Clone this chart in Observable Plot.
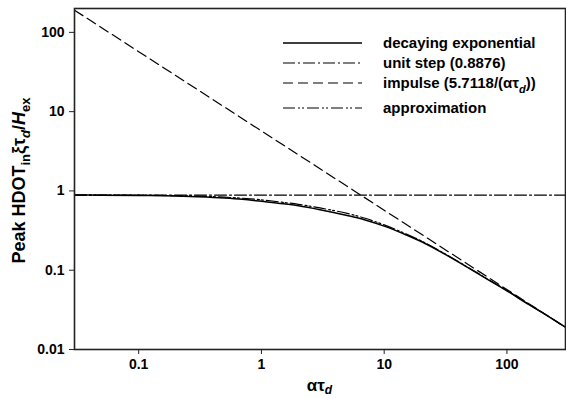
<!DOCTYPE html>
<html>
<head>
<meta charset="utf-8">
<script src="https://cdn.jsdelivr.net/npm/d3@7"></script>
<script src="https://cdn.jsdelivr.net/npm/@observablehq/plot@0.6"></script>
<style>
  html, body { margin: 0; padding: 0; background: #fff; }
  svg { display: block; }
</style>
</head>
<body>
<div id="chart"></div>
<script>
// ---- data ----
const alphaTau = [0.03, 0.05, 0.1, 0.2, 0.3, 0.5, 0.7, 1, 1.5, 2, 3, 5, 7, 10, 15, 20, 30, 50, 70, 100, 150, 200, 300];
const decayingExponential = [0.887, 0.885, 0.878, 0.862, 0.845, 0.815, 0.785, 0.74, 0.69, 0.65, 0.58, 0.49, 0.43, 0.36, 0.28, 0.23, 0.165, 0.104, 0.076, 0.055, 0.037, 0.0283, 0.0191];
const approximation = [0.887, 0.886, 0.883, 0.872, 0.86, 0.835, 0.808, 0.772, 0.718, 0.678, 0.61, 0.52, 0.452, 0.373, 0.288, 0.235, 0.167, 0.105, 0.077, 0.0555, 0.0375, 0.0284, 0.0191];
const stepX = [0.03, 300];
const unitStep = [0.8876, 0.8876];
const impulseX = [0.03, 300];
const impulse = [190.39, 0.01904];
const xTicks = [0.1, 1, 10, 100];
const yTicks = [0.01, 0.1, 1, 10, 100];
const xDomain = [0.03, 300];
const yDomain = [0.01, 200];

const decayRows = alphaTau.map((x, i) => ({x, y: decayingExponential[i]}));
const approxRows = alphaTau.map((x, i) => ({x, y: approximation[i]}));
const stepRows = stepX.map((x, i) => ({x, y: unitStep[i]}));
const impulseRows = impulseX.map((x, i) => ({x, y: impulse[i]}));

const W = 566, H = 398, mL = 74, mR = 1, mT = 8, mB = 49;

const chart = Plot.plot({
  width: W, height: H,
  marginLeft: mL, marginRight: mR, marginTop: mT, marginBottom: mB,
  style: {fontFamily: "'Liberation Sans', Arial, sans-serif", fontSize: "14px", fontWeight: "bold", color: "#000", background: "#fff"},
  x: {type: "log", domain: xDomain, label: null},
  y: {type: "log", domain: yDomain, label: null},
  marks: [
    Plot.line(impulseRows, {x: "x", y: "y", stroke: "#000", strokeWidth: 1.2, strokeDasharray: "10,5"}),
    Plot.line(stepRows, {x: "x", y: "y", stroke: "#000", strokeWidth: 1.2, strokeDasharray: "12,3,2,3"}),
    Plot.line(decayRows, {x: "x", y: "y", stroke: "#000", strokeWidth: 1.5, curve: "monotone-x"}),
    Plot.line(approxRows, {x: "x", y: "y", stroke: "#000", strokeWidth: 1.2, strokeDasharray: "12,3,2,2,2,3", curve: "monotone-x"}),
    Plot.axisX({ticks: xTicks, tickFormat: d => String(d), tickSize: 5, tickPadding: 5, stroke: "#222", label: null}),
    Plot.axisY({ticks: yTicks, tickFormat: d => String(d), tickSize: 5, tickPadding: 5, stroke: "#222", label: null}),
    Plot.frame({stroke: "#222", strokeWidth: 1.6})
  ]
});
document.getElementById("chart").appendChild(chart);

const svg = d3.select(chart);
const font = "'Liberation Sans', Arial, sans-serif";

// x-axis title
const xt = svg.append("text")
  .attr("x", (mL + W - mR) / 2).attr("y", 391)
  .attr("text-anchor", "middle").attr("font-family", font)
  .attr("font-weight", "bold").attr("font-size", 17).attr("fill", "#000");
xt.append("tspan").text("ατ");
xt.append("tspan").attr("dy", 3).attr("font-size", 12).attr("font-style", "italic").text("d");

// y-axis title
const yt = svg.append("text")
  .attr("transform", `translate(25,${(mT + H - mB) / 2 + 2}) rotate(-90)`)
  .attr("text-anchor", "middle").attr("font-family", font)
  .attr("font-weight", "bold").attr("font-size", 18).attr("fill", "#000");
yt.append("tspan").text("Peak HDOT");
yt.append("tspan").attr("dy", 5).attr("font-size", 13).text("in");
yt.append("tspan").attr("dy", -5).text("ξτ");
yt.append("tspan").attr("dy", 5).attr("font-size", 13).attr("font-style", "italic").text("d");
yt.append("tspan").attr("dy", -5).text("/");
yt.append("tspan").attr("font-style", "italic").text("H");
yt.append("tspan").attr("dy", 5).attr("font-size", 13).text("ex");

// legend
const legend = [
  {label: ["decaying exponential"], dash: null, w: 1.5, y: 43},
  {label: ["unit step (0.8876)"], dash: "12,3,2,3", w: 1.2, y: 63},
  {label: ["impulse (5.7118/(ατ", "d", "))"], dash: "10,5", w: 1.2, y: 83},
  {label: ["approximation"], dash: "12,3,2,2,2,3", w: 1.2, y: 108}
];
const lg = svg.append("g").attr("text-anchor", "start");
legend.forEach(e => {
  lg.append("line").attr("x1", 283).attr("x2", 362).attr("y1", e.y).attr("y2", e.y)
    .attr("stroke", "#000").attr("stroke-width", e.w)
    .attr("stroke-dasharray", e.dash);
  const t = lg.append("text").attr("x", 383).attr("y", e.y + 5)
    .attr("text-anchor", "start")
    .attr("font-family", font).attr("font-weight", "bold").attr("font-size", 15).attr("fill", "#000");
  t.append("tspan").text(e.label[0]);
  if (e.label.length > 1) {
    t.append("tspan").attr("dy", 5).attr("font-size", 11).attr("font-style", "italic").text(e.label[1]);
    t.append("tspan").attr("dy", -5).text(e.label[2]);
  }
});
</script>
</body>
</html>
